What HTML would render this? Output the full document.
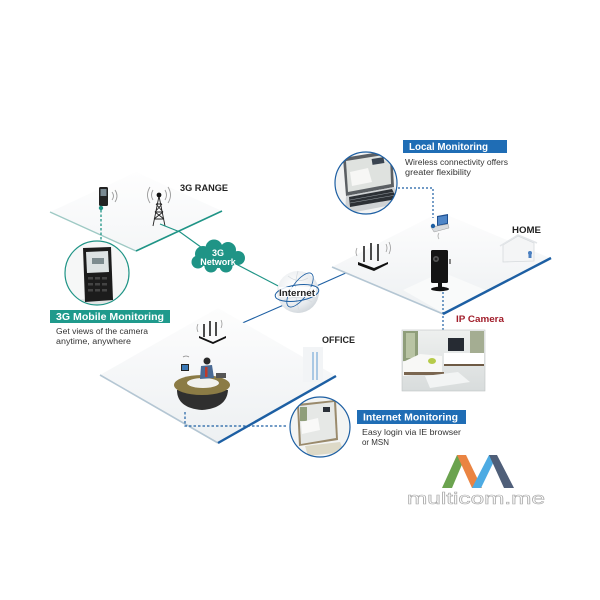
<!DOCTYPE html>
<html><head><meta charset="utf-8"><style>
html,body{margin:0;padding:0;background:#fff;}
svg{display:block;}
text{font-family:"Liberation Sans",Arial,sans-serif;}
</style></head><body>
<svg width="600" height="600" viewBox="0 0 600 600" xmlns="http://www.w3.org/2000/svg">
<defs>
<linearGradient id="pl" x1="0" y1="1" x2="0" y2="0">
<stop offset="0" stop-color="#edf0f2"/><stop offset="0.6" stop-color="#f7f8f9"/><stop offset="1" stop-color="#fdfdfd"/>
</linearGradient>
<radialGradient id="globe" cx="0.4" cy="0.35" r="0.7">
<stop offset="0" stop-color="#ffffff"/><stop offset="0.7" stop-color="#e8ebee"/><stop offset="1" stop-color="#cfd5da"/>
</radialGradient>
<linearGradient id="room" x1="0" y1="0" x2="0" y2="1">
<stop offset="0" stop-color="#eef0ef"/><stop offset="1" stop-color="#d8dcdc"/>
</linearGradient>
<clipPath id="c1"><circle cx="97" cy="273" r="32"/></clipPath>
<clipPath id="c2"><circle cx="366" cy="183" r="31"/></clipPath>
<clipPath id="c3"><circle cx="320" cy="427" r="30"/></clipPath>
</defs>
<rect width="600" height="600" fill="#fff"/>

<!-- 3G RANGE plane -->
<polygon points="50,212 136,251 222,211 136,172" fill="url(#pl)" opacity="0.6"/>
<line x1="50" y1="212" x2="136" y2="251" stroke="#9ec9c4" stroke-width="1.3"/>
<line x1="136" y1="251" x2="222" y2="211" stroke="#1f9486" stroke-width="1.6"/>

<!-- small phone -->
<rect x="99" y="187" width="9" height="19" rx="1.5" fill="#222"/>
<rect x="100.5" y="189" width="6" height="7" fill="#7a8a92"/>
<circle cx="101" cy="208" r="2.2" fill="#1f9486"/>
<path d="M112,192 q3,4 0,8 M115,190 q4,6 0,12" stroke="#999" fill="none" stroke-width="0.9"/>
<!-- tower -->
<g stroke="#222" stroke-width="0.9" fill="none">
<path d="M159,196 L153,226 M159,196 L165,226 M155,212 L163,212 M154,219 L164,219 M156,204 L162,204 M155,212 L164,219 M163,212 L154,219 M156,204 L163,212 M162,204 L155,212"/>
</g>
<circle cx="159" cy="195" r="2.4" fill="#111"/>
<path d="M153,190 q-3,5 0,10 M150,187 q-5,8 0,16 M165,190 q3,5 0,10 M168,187 q5,8 0,16" stroke="#999" fill="none" stroke-width="0.9"/>
<text x="180" y="191" font-size="9.5" font-weight="bold" fill="#222" textLength="48" lengthAdjust="spacingAndGlyphs">3G RANGE</text>

<!-- 3G mobile monitoring -->
<line x1="101" y1="210" x2="101" y2="240" stroke="#1f9486" stroke-width="1.3" stroke-dasharray="2.5,2"/>
<circle cx="97" cy="273" r="32" fill="#fff"/>
<g clip-path="url(#c1)">
<rect x="60" y="240" width="80" height="70" fill="#f6f7f7"/>
<ellipse cx="97" cy="303" rx="25" ry="5" fill="#e3e5e5"/>
<polygon points="83,248 111,247 113,300 85,302" fill="#1c1c1c"/>
<polygon points="86,252 108,251 109,272 87,273" fill="#dde2e3"/>
<rect x="92" y="258" width="12" height="6" fill="#7d8b8f"/>
<g fill="#444">
<rect x="88" y="277" width="5" height="2.5"/><rect x="95" y="277" width="5" height="2.5"/><rect x="102" y="277" width="5" height="2.5"/>
<rect x="88" y="283" width="5" height="2.5"/><rect x="95" y="283" width="5" height="2.5"/><rect x="102" y="283" width="5" height="2.5"/>
<rect x="88" y="289" width="5" height="2.5"/><rect x="95" y="289" width="5" height="2.5"/><rect x="102" y="289" width="5" height="2.5"/>
</g>
</g>
<circle cx="97" cy="273" r="32" fill="none" stroke="#1f9486" stroke-width="1.2"/>
<rect x="50" y="310" width="120" height="13" fill="#1f9a8c"/>
<text x="56" y="320" font-size="9.8" font-weight="bold" fill="#fff" textLength="108" lengthAdjust="spacingAndGlyphs">3G Mobile Monitoring</text>
<text x="56" y="334" font-size="8.6" fill="#333" textLength="92" lengthAdjust="spacingAndGlyphs">Get views of the camera</text>
<text x="56" y="344" font-size="8.6" fill="#333" textLength="75" lengthAdjust="spacingAndGlyphs">anytime, anywhere</text>

<!-- 3G lines -->
<polyline points="160,224 180,232 205,250" fill="none" stroke="#1f9486" stroke-width="1.2"/>
<line x1="236" y1="264" x2="284" y2="289" stroke="#1f9486" stroke-width="1.2"/>
<!-- cloud -->
<g fill="#1f9486">
<ellipse cx="218" cy="258" rx="23" ry="10"/>
<circle cx="203" cy="254" r="8"/><circle cx="214" cy="248" r="8.5"/><circle cx="228" cy="250" r="8"/><circle cx="238" cy="258" r="7"/>
<circle cx="198" cy="262" r="6.5"/><circle cx="211" cy="266" r="6.5"/><circle cx="226" cy="266" r="6.5"/>
</g>
<text x="218" y="256" font-size="9" font-weight="bold" fill="#fff" text-anchor="middle">3G</text>
<text x="218" y="265" font-size="9" font-weight="bold" fill="#fff" text-anchor="middle">Network</text>

<!-- internet globe -->
<line x1="286" y1="304" x2="224" y2="331" stroke="#1d5fa3" stroke-width="1.1"/>
<line x1="312" y1="288" x2="366" y2="264" stroke="#1d5fa3" stroke-width="1.1"/>
<circle cx="298" cy="292" r="21" fill="url(#globe)"/>
<path d="M288,276 q10,8 20,2 M284,300 q14,-6 28,2 M298,271 q-6,20 2,42" stroke="#d7dce0" fill="none" stroke-width="0.8"/>
<ellipse cx="297" cy="293" rx="22" ry="8" transform="rotate(-8 297 293)" fill="none" stroke="#1d5fa3" stroke-width="1"/>
<ellipse cx="300" cy="290" rx="8" ry="20" transform="rotate(35 300 290)" fill="none" stroke="#1d5fa3" stroke-width="0.8"/>
<rect x="279" y="287" width="37" height="10" fill="#fff" opacity="0.85"/>
<text x="297" y="296" font-size="9" font-weight="bold" fill="#222" text-anchor="middle" textLength="36" lengthAdjust="spacingAndGlyphs">Internet</text>

<!-- HOME plane -->
<polygon points="332,267 443,314 550,258 440,212" fill="url(#pl)"/>
<polygon points="403,290 442,272 488,291 443,313" fill="#f9fafa"/>
<line x1="332" y1="267" x2="443" y2="314" stroke="#b4c6d3" stroke-width="1.6"/>
<line x1="443" y1="314" x2="551" y2="258" stroke="#1d5fa3" stroke-width="2.4"/>
<!-- home router -->
<g stroke="#111" stroke-width="1.5"><line x1="364" y1="246" x2="364" y2="262"/><line x1="371" y1="243" x2="371" y2="260"/><line x1="378" y1="244" x2="378" y2="261"/></g>
<polygon points="358,262 374,268 388,262 388,264 374,271 358,265" fill="#111"/>
<path d="M357,248 q-2,4 0,8 M386,244 q2,4 0,8 M389,242 q3,6 0,12" stroke="#999" fill="none" stroke-width="0.8"/>
<!-- camera -->
<rect x="431" y="250" width="17" height="33" rx="1.5" fill="#141414"/>
<circle cx="436" cy="259" r="3" fill="#555"/><circle cx="436" cy="259" r="1.4" fill="#222"/>
<rect x="449" y="259" width="2" height="5" fill="#888"/>
<rect x="438" y="283" width="4" height="5" fill="#111"/>
<ellipse cx="440" cy="289" rx="9" ry="2.2" fill="#111"/>
<path d="M439,233 q-2,3 0,6" stroke="#aaa" fill="none" stroke-width="0.8"/>
<line x1="443" y1="292" x2="443" y2="330" stroke="#1d5fa3" stroke-width="1.2" stroke-dasharray="2,2"/>
<text x="456" y="322" font-size="9.5" font-weight="bold" fill="#a11d2a" textLength="48" lengthAdjust="spacingAndGlyphs">IP Camera</text>
<!-- house -->
<polygon points="503,245 518,236 534,243 534,261 503,262" fill="#f4f5f6" stroke="#d6dadd" stroke-width="0.8"/>
<path d="M500,246 L518,235 L537,243" fill="none" stroke="#e3e6e9" stroke-width="1.5"/>
<circle cx="530" cy="253" r="2" fill="#4a7fc0"/><rect x="528.5" y="254" width="3" height="4" fill="#4a7fc0"/>
<text x="512" y="233" font-size="9.5" font-weight="bold" fill="#222" textLength="29" lengthAdjust="spacingAndGlyphs">HOME</text>
<!-- photo -->
<g>
<rect x="402" y="330" width="83" height="61" fill="url(#room)" stroke="#bfc3c3" stroke-width="0.6"/>
<rect x="403" y="331" width="15" height="30" fill="#8f9e7a"/>
<rect x="406" y="333" width="9" height="25" fill="#b9c4a4"/>
<rect x="470" y="331" width="14" height="32" fill="#a4ad92"/>
<rect x="448" y="338" width="16" height="13" fill="#262b33"/>
<rect x="444" y="353" width="40" height="11" fill="#ffffff"/>
<rect x="444" y="364" width="40" height="2" fill="#6e5a44"/>
<polygon points="403,362 420,354 442,356 442,372 403,376" fill="#f8f8f6"/>
<rect x="404" y="372" width="40" height="3" fill="#7a6650"/>
<ellipse cx="432" cy="361" rx="4" ry="3" fill="#b6cb4a"/>
<polygon points="425,376 458,372 470,382 430,388" fill="#f2f4f4"/>
</g>

<!-- local monitoring -->
<polyline points="398,188 433,188 433,218" fill="none" stroke="#1d5fa3" stroke-width="1.2" stroke-dasharray="2,2"/>
<circle cx="366" cy="183" r="31" fill="#fff"/>
<g clip-path="url(#c2)">
<rect x="330" y="150" width="75" height="70" fill="#f2f3f3"/>
<polygon points="343,158 392,150 394,187 346,196" fill="#5b5f63"/>
<polygon points="346,161 390,154 391,184 348,192" fill="#dfe2df"/>
<rect x="372" y="158" width="12" height="6" fill="#3a4450" transform="rotate(-9 378 161)"/>
<polygon points="350,172 368,168 372,182 352,186" fill="#f7f7f5"/>
<polygon points="346,196 394,187 402,203 345,214" fill="#cfd2d4"/>
<polygon points="349,197 392,189 397,199 350,207" fill="#2c3035"/>
<g stroke="#9aa0a6" stroke-width="0.5"><line x1="350" y1="200" x2="394" y2="192"/><line x1="350" y1="203" x2="396" y2="195"/></g>
</g>
<circle cx="366" cy="183" r="31" fill="none" stroke="#1d5fa3" stroke-width="1.2"/>
<!-- small laptop -->
<polygon points="437,216 448,214 448,224 437,226" fill="#1d4f8f"/>
<polygon points="438,217 447,215.5 447,223 438,225" fill="#4f86c7"/>
<polygon points="431,227 437,226 448,224 449,228 434,232" fill="#d8dbde" stroke="#888" stroke-width="0.4"/>
<circle cx="433" cy="226" r="2.2" fill="#1d5fa3"/>
<rect x="403" y="140" width="104" height="13" fill="#1f6db5"/>
<text x="409" y="150" font-size="9.8" font-weight="bold" fill="#fff" textLength="79" lengthAdjust="spacingAndGlyphs">Local Monitoring</text>
<text x="405" y="165" font-size="8.6" fill="#333" textLength="103" lengthAdjust="spacingAndGlyphs">Wireless connectivity offers</text>
<text x="405" y="175" font-size="8.6" fill="#333" textLength="66" lengthAdjust="spacingAndGlyphs">greater flexibility</text>

<!-- OFFICE plane -->
<polygon points="100,375 218,443 336,376 218,308" fill="url(#pl)"/>
<line x1="100" y1="375" x2="218" y2="443" stroke="#b4c6d3" stroke-width="1.6"/>
<line x1="218" y1="443" x2="336" y2="376" stroke="#1d5fa3" stroke-width="2.4"/>
<!-- office router -->
<g stroke="#111" stroke-width="1.5"><line x1="204" y1="324" x2="204" y2="337"/><line x1="210" y1="321" x2="210" y2="336"/><line x1="216" y1="322" x2="216" y2="336"/></g>
<polygon points="199,336 213,342 226,336 226,338 213,344 199,338" fill="#111"/>
<path d="M198,324 q-2,4 0,8 M221,320 q2,4 0,8" stroke="#999" fill="none" stroke-width="0.8"/>
<!-- office wall -->
<rect x="303" y="347" width="20" height="35" fill="#f2f4f6"/>
<rect x="312" y="352" width="2" height="28" fill="#a9c8e4"/><rect x="316" y="352" width="2" height="28" fill="#a9c8e4"/>
<text x="322" y="343" font-size="9.5" font-weight="bold" fill="#222" textLength="33" lengthAdjust="spacingAndGlyphs">OFFICE</text>
<!-- desk & person -->
<path d="M177,390 q0,18 25,20 q25,-2 26,-20 z" fill="#2f2f2f"/>
<ellipse cx="202" cy="385" rx="28" ry="10" fill="#8b7b45"/>
<ellipse cx="203" cy="383" rx="16" ry="5" fill="#f1f1ee"/>
<rect x="181" y="364" width="8" height="7" fill="#222"/><rect x="182" y="365" width="6" height="5" fill="#3a78b5"/>
<path d="M183,357 q3,-2 6,0" stroke="#888" fill="none" stroke-width="0.8"/>
<circle cx="207" cy="361" r="3.5" fill="#2a2a2a"/>
<polygon points="201,366 212,365 214,378 200,379" fill="#4a6a94"/>
<rect x="205" y="367" width="2.5" height="10" fill="#c0392b"/>
<rect x="216" y="373" width="10" height="5" fill="#555"/>
<polyline points="185,412 185,426 287,426" fill="none" stroke="#1d5fa3" stroke-width="1.2" stroke-dasharray="2.5,2"/>

<!-- internet monitoring -->
<circle cx="320" cy="427" r="30" fill="#fff"/>
<g clip-path="url(#c3)">
<rect x="288" y="396" width="65" height="62" fill="#f3f4f3"/>
<polygon points="297,404 336,400 338,440 299,446" fill="#9a8a6c"/>
<polygon points="299,406 334,402 336,438 301,444" fill="#e6e8e6"/>
<rect x="300" y="407" width="7" height="14" fill="#8f9e7a"/>
<rect x="323" y="407" width="7" height="5" fill="#2b3038"/>
<polygon points="301,422 318,418 320,430 302,434" fill="#f9f9f8"/>
<polygon points="305,446 340,442 344,452 308,456" fill="#ddd9c7"/>
</g>
<circle cx="320" cy="427" r="30" fill="none" stroke="#1d5fa3" stroke-width="1.2"/>
<rect x="357" y="410" width="109" height="14" fill="#1f6db5"/>
<text x="363" y="420.5" font-size="9.8" font-weight="bold" fill="#fff" textLength="95" lengthAdjust="spacingAndGlyphs">Internet Monitoring</text>
<text x="362" y="435" font-size="8.6" fill="#333" textLength="99" lengthAdjust="spacingAndGlyphs">Easy login via IE browser</text>
<text x="362" y="445" font-size="8.6" fill="#333" textLength="27" lengthAdjust="spacingAndGlyphs">or MSN</text>

<!-- watermark -->
<g opacity="0.9">
<polygon points="442,488 457,455 466,455 452,488" fill="#5c9a3c"/>
<polygon points="457,455 466,455 482,488 472,488" fill="#e8772e"/>
<polygon points="472,488 489,455 497,455 481,488" fill="#3aa3e0"/>
<polygon points="489,455 497,455 514,488 504,488" fill="#3d4e6b"/>
</g>
<text x="407" y="504" font-size="17" fill="#fff" stroke="#a8a8a8" stroke-width="0.6" textLength="138" lengthAdjust="spacingAndGlyphs">multicom.me</text>
</svg>
</body></html>
